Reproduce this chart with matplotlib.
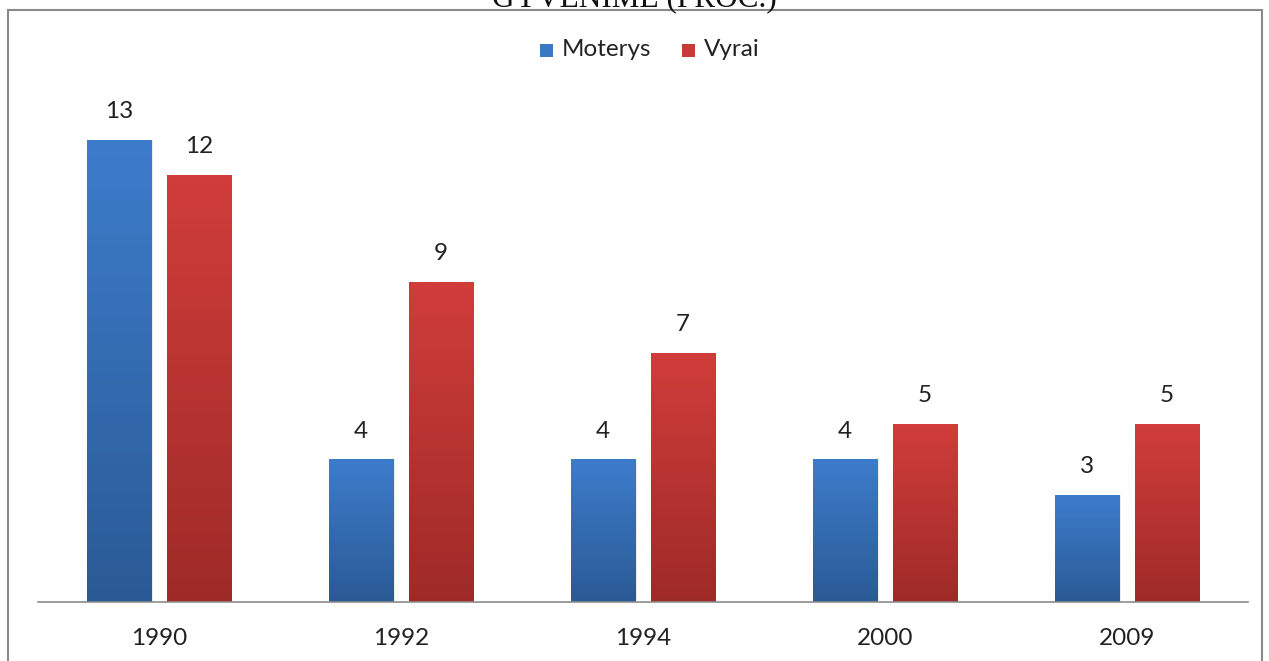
import numpy as np
import matplotlib
matplotlib.use("Agg")
import matplotlib.pyplot as plt
from matplotlib.patches import Rectangle
from matplotlib.colors import LinearSegmentedColormap

categories = ["1990", "1992", "1994", "2000", "2009"]
moterys = [13, 4, 4, 4, 3]
vyrai = [12, 9, 7, 5, 5]
series_names = ["Moterys", "Vyrai"]
title = "GYVENIME (PROC.)"

W, H = 1269, 661
fig = plt.figure(figsize=(W / 100, H / 100), dpi=100)
plt.rcParams['font.family'] = ['Lato', 'DejaVu Sans']

# axes placement in pixels
ax_left, ax_right = 38, 1248
ax_bottom = 602
ymax = 15
unit = (602 - 140) / 13.0
ax_top = ax_bottom - ymax * unit
ax = fig.add_axes([ax_left / W, (H - ax_bottom) / H, (ax_right - ax_left) / W, (ax_bottom - ax_top) / H])
ax.set_xlim(-0.5, len(categories) - 0.5)
ax.set_ylim(0, ymax)
for s in ["top", "left", "right"]:
    ax.spines[s].set_visible(False)
ax.spines["bottom"].set_color("#8c8c8c")
ax.spines["bottom"].set_linewidth(1.2)
ax.set_yticks([])
ax.set_xticks(range(len(categories)))
ax.set_xticklabels(categories, fontsize=17.5, color="#222222")
ax.tick_params(axis="x", length=0, pad=19)

blue_cmap = LinearSegmentedColormap.from_list("b", ["#2a5a95", "#3d7ccb"])
red_cmap = LinearSegmentedColormap.from_list("r", ["#9e2a28", "#d03d3a"])
grad = np.linspace(0, 1, 256).reshape(-1, 1)

bw = 0.265
off = 0.165
x = np.arange(len(categories))
for vals, cmap, sgn in [(moterys, blue_cmap, -1), (vyrai, red_cmap, 1)]:
    bars = ax.bar(x + sgn * off, vals, width=bw, color="none", edgecolor="none", zorder=2)
    for b, v in zip(bars, vals):
        x0 = b.get_x()
        # subtle shadow
        ax.add_patch(Rectangle((x0 + 0.006, 0), bw, v, facecolor="#000000", alpha=0.08, edgecolor="none", zorder=1.5))
        ax.imshow(grad, cmap=cmap, aspect="auto", origin="lower",
                  extent=(x0, x0 + bw, 0, v), zorder=2)
        ax.annotate(str(v), (x0 + bw / 2, v), xytext=(0, 13), textcoords="offset points",
                    ha="center", va="bottom", fontsize=17.5, color="#222222")
ax.set_xlim(-0.5, len(categories) - 0.5)
ax.set_ylim(0, ymax)

# legend
hy = 1 - 50 / H
for px, name, col in [(540, series_names[0], "#3a78c4"), (682, series_names[1], "#c83a37")]:
    fig.patches.append(Rectangle((px / W, (H - 57) / H), 13 / W, 13 / H, transform=fig.transFigure,
                                 facecolor=col, edgecolor="none"))
    fig.text((px + 22) / W, hy, name, fontsize=17.5, color="#222222", va="center", ha="left")

# outer border
fig.patches.append(Rectangle((8 / W, -0.01), (1262 - 8) / W, (H - 10) / H + 0.01, transform=fig.transFigure,
                             facecolor="none", edgecolor="#8a8a8a", linewidth=1.5))
# cut-off title (as in the reference, only its lower part is visible)
fig.text(634 / W, 1 - 6 / H, title, fontsize=22.5, family="Liberation Serif", ha="center",
         va="baseline", color="#111111")

fig.savefig("out.png", dpi=100)
